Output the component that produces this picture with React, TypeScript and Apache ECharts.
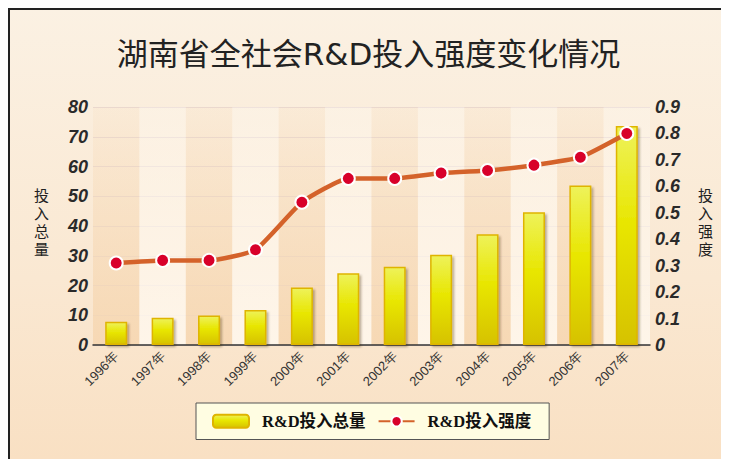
import React, { useEffect, useRef } from "react";
import * as echarts from "echarts";

const categories = ["1996年", "1997年", "1998年", "1999年", "2000年", "2001年", "2002年", "2003年", "2004年", "2005年", "2006年", "2007年"];
const totalValues = [7.8, 9.2, 9.9, 11.8, 19.3, 24.1, 26.3, 30.3, 37.2, 44.6, 53.6, 73.6];
const intensityValues = [0.31, 0.32, 0.32, 0.36, 0.54, 0.63, 0.63, 0.65, 0.66, 0.68, 0.71, 0.8];
const titleText = "湖南省全社会R&D投入强度变化情况";
const seriesNames = ["R&D投入总量", "R&D投入强度"];

export default function App() {
  const ref = useRef<HTMLDivElement>(null);
  useEffect(() => {
    if (!ref.current) return;
    const chart = echarts.init(ref.current, null, { renderer: "svg" });
    const barGrad = new echarts.graphic.LinearGradient(0, 0, 0, 1, [
      { offset: 0, color: "#eef25a" },
      { offset: 0.45, color: "#e8e600" },
      { offset: 1, color: "#d6c200" },
    ]);
    const darkBand = new echarts.graphic.LinearGradient(0, 0, 0, 1, [
      { offset: 0, color: "rgba(246,216,180,0.15)" },
      { offset: 1, color: "rgba(246,214,176,0.85)" },
    ]);
    const lightBand = new echarts.graphic.LinearGradient(0, 0, 0, 1, [
      { offset: 0, color: "rgba(255,250,242,0.3)" },
      { offset: 1, color: "rgba(255,248,238,0.85)" },
    ]);
    chart.setOption({
      animation: false,
      title: {
        text: titleText,
        left: "center",
        top: 25,
        textStyle: {
          fontFamily: "'DejaVu Sans', 'Noto Sans CJK SC', sans-serif",
          fontSize: 31,
          fontWeight: "normal",
          color: "#222",
        },
      },
      grid: { left: 85, right: 79, top: 99, bottom: 114 },
      legend: {
        left: 188,
        top: 395,
        padding: [10, 18, 10, 16],
        backgroundColor: "#fffde2",
        borderColor: "#555",
        borderWidth: 1,
        itemWidth: 36,
        itemHeight: 13,
        itemGap: 12,
        textStyle: {
          fontFamily: "'Liberation Serif', 'Noto Sans CJK SC', serif",
          fontWeight: "bold",
          fontSize: 16.5,
          color: "#111",
          padding: [0, 0, 0, 8],
        },
        data: seriesNames,
      },
      xAxis: {
        type: "category",
        data: categories,
        axisLine: { lineStyle: { color: "#333", width: 1.5 } },
        axisTick: { show: false },
        axisLabel: {
          rotate: 45,
          margin: 9,
          fontSize: 13,
          color: "#333",
          fontFamily: "'Liberation Sans', Arial, sans-serif",
          interval: 0,
        },
        splitArea: { show: true, areaStyle: { color: [darkBand, lightBand] } },
      },
      yAxis: [
        {
          type: "value",
          min: 0,
          max: 80,
          interval: 10,
          axisLine: { show: false },
          axisTick: { show: false },
          axisLabel: {
            margin: 5,
            fontSize: 18,
            fontWeight: "bold",
            fontStyle: "italic",
            color: "#2a2a2a",
            fontFamily: "'Liberation Sans', Arial, sans-serif",
          },
          splitLine: { lineStyle: { color: "#e8d8d2", width: 1 } },
        },
        {
          type: "value",
          min: 0,
          max: 0.9,
          interval: 0.1,
          axisLine: { show: false },
          axisTick: { show: false },
          axisLabel: {
            margin: 5,
            fontSize: 18,
            fontWeight: "bold",
            fontStyle: "italic",
            color: "#2a2a2a",
            fontFamily: "'Liberation Sans', Arial, sans-serif",
            formatter: (v: number) => String(Math.round(v * 10) / 10),
          },
          splitLine: { show: false },
        },
      ],
      graphic: [
        {
          type: "text",
          left: 26,
          top: 177,
          style: {
            text: "投\n入\n总\n量",
            fontSize: 15,
            lineHeight: 18,
            fill: "#222",
            fontFamily: "'Noto Sans CJK SC', sans-serif",
          },
        },
        {
          type: "text",
          left: 690,
          top: 177,
          style: {
            text: "投\n入\n强\n度",
            fontSize: 15,
            lineHeight: 18,
            fill: "#222",
            fontFamily: "'Noto Sans CJK SC', sans-serif",
          },
        },
      ],
      series: [
        {
          name: seriesNames[0],
          type: "bar",
          data: totalValues,
          barWidth: 22,
          itemStyle: {
            color: barGrad,
            borderColor: "#dfb400",
            borderWidth: 1.5,
            shadowColor: "rgba(60,40,0,0.35)",
            shadowOffsetX: 2,
            shadowOffsetY: 2,
            shadowBlur: 2,
          },
        },
        {
          name: seriesNames[1],
          type: "line",
          yAxisIndex: 1,
          data: intensityValues,
          smooth: 0.15,
          symbol: "circle",
          symbolSize: 13,
          lineStyle: { color: "#d4622a", width: 4.5 },
          itemStyle: { color: "#d8002a", borderColor: "#fff", borderWidth: 2 },
          z: 5,
        },
      ],
    });
    return () => chart.dispose();
  }, []);
  return (
    <div
      style={{
        position: "relative",
        width: 721,
        height: 451,
        background: "linear-gradient(to bottom, #fbf1e3 0%, #fae8d2 60%, #f9e0c3 100%)",
        overflow: "hidden",
      }}
    >
      <div ref={ref} style={{ position: "absolute", left: 0, top: 0, width: 721, height: 451 }} />
      <div
        style={{
          position: "absolute",
          left: 0,
          top: 0,
          width: 721,
          height: 451,
          boxSizing: "border-box",
          borderLeft: "2px solid #222",
          borderTop: "2px solid #222",
          pointerEvents: "none",
        }}
      />
    </div>
  );
}
